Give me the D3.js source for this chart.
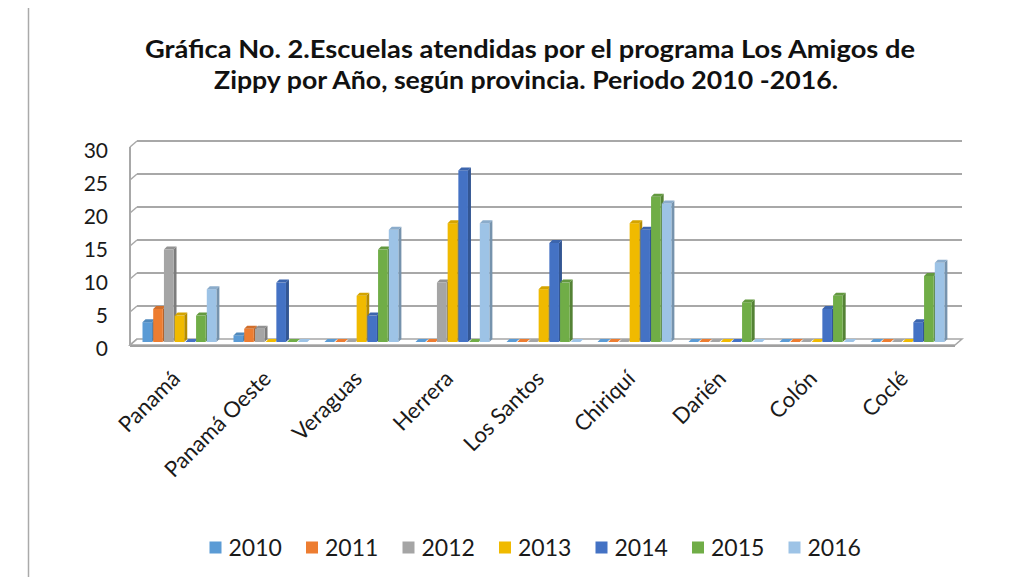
<!DOCTYPE html>
<html><head><meta charset="utf-8">
<script src="https://cdn.jsdelivr.net/npm/d3@7"></script>
<style>body{margin:0;background:#fff}svg{display:block}</style>
</head><body>
<svg id="c" width="1020" height="577"></svg>
<script>
const categories = ["Panamá","Panamá Oeste","Veraguas","Herrera","Los Santos","Chiriquí","Darién","Colón","Coclé"];
const years = ["2010","2011","2012","2013","2014","2015","2016"];
const colors = ["#5B9BD5","#ED7D31","#A5A5A5","#F0BA00","#4472C4","#70AD47","#9DC3E6"];
const v2010 = [3,1,0,0,0,0,0,0,0];
const v2011 = [5,2,0,0,0,0,0,0,0];
const v2012 = [14,2,0,9,0,0,0,0,0];
const v2013 = [4,0,7,18,8,18,0,0,0];
const v2014 = [0,9,4,26,15,17,0,5,3];
const v2015 = [4,0,14,0,9,22,6,7,10];
const v2016 = [8,0,17,18,0,21,0,0,12];
const series = [v2010,v2011,v2012,v2013,v2014,v2015,v2016];
const yTicks = [0,5,10,15,20,25,30];
const titleLines = ["Gráfica No. 2.Escuelas atendidas por el programa Los Amigos de","Zippy por Año, según provincia. Periodo 2010 -2016."];

const svg = d3.select("#c");
const FONT = "Lato, 'Open Sans', sans-serif";

// left page rule
svg.append("line").attr("x1",28.5).attr("x2",28.5).attr("y1",8).attr("y2",577)
  .attr("stroke","#aaa").attr("stroke-width",1.5);

// title
svg.append("g").selectAll("text").data(titleLines).join("text")
  .attr("x",(d,i)=> i===0?530:526).attr("y",(d,i)=>58+i*31)
  .attr("text-anchor","middle").attr("font-family",FONT).attr("font-weight","bold")
  .attr("font-size",24).attr("fill","#111")
  .attr("textLength",(d,i)=> i===0?770:624).attr("lengthAdjust","spacingAndGlyphs")
  .text(d=>d);

const y = d3.scaleLinear().domain([0,30]).range([342,144]);
const x0 = d3.scaleBand().domain(categories).range([130,949]);
const x1 = d3.scaleBand().domain(years).range([12.5,12.5+75]);
const DX = 7, DY = -6;     // wall depth
const bdx = 3, bdy = -3;   // bar depth
const wallL = 130, wallR = 955, floorY = 345;

// floor
const fl = svg.append("g");
fl.append("path").attr("d",`M${wallL},${floorY}L${wallR},${floorY}L${wallR+DX},${floorY+DY}L${wallL+DX},${floorY+DY}Z`)
  .attr("fill","#fff").attr("stroke","#a6a6a6").attr("stroke-width",1.5);
fl.append("line").attr("x1",wallL).attr("x2",wallR).attr("y1",floorY+1).attr("y2",floorY+1)
  .attr("stroke","#a0a0a0").attr("stroke-width",2.2);

// gridlines on back wall + left wall ticks
const grid = svg.append("g");
yTicks.forEach(t=>{
  const yf = y(t)+3;
  if(t>0){
    grid.append("line").attr("x1",wallL+DX).attr("x2",wallR+DX).attr("y1",yf+DY).attr("y2",yf+DY)
      .attr("stroke","#a8a8a8").attr("stroke-width",2.2);
  }
  grid.append("line").attr("x1",wallL).attr("x2",wallL+DX).attr("y1",yf).attr("y2",yf+DY)
    .attr("stroke","#a8a8a8").attr("stroke-width",1.5);
});
grid.append("line").attr("x1",wallL).attr("x2",wallL).attr("y1",y(30)+3).attr("y2",floorY+1)
  .attr("stroke","#a8a8a8").attr("stroke-width",2);

// y labels
svg.append("g").selectAll("text").data(yTicks).join("text")
  .attr("x",108).attr("y",t=>y(t)+7).attr("dy","0.35em").attr("text-anchor","end")
  .attr("font-family",FONT).attr("font-size",21).attr("fill","#1a1a1a").text(d=>d);

// bars
const W = 9.6;
const bars = svg.append("g");
categories.forEach((c,ci)=>{
  years.forEach((yr,si)=>{
    const v = series[si][ci];
    const col = d3.color(colors[si]);
    const xl = x0(c)+x1(yr), xr = xl+W, yt = y(v), yb = y(0);
    bars.append("path").attr("d",`M${xr},${yb}L${xr+bdx},${yb+bdy}L${xr+bdx},${yt+bdy}L${xr},${yt}Z`)
      .attr("fill",col.darker(0.8));
    bars.append("rect").attr("x",xl).attr("y",yt).attr("width",W).attr("height",Math.max(0,yb-yt))
      .attr("fill",colors[si]);
    bars.append("path").attr("d",`M${xl},${yt}L${xr},${yt}L${xr+bdx},${yt+bdy}L${xl+bdx},${yt+bdy}Z`)
      .attr("fill",v===0?colors[si]:col.darker(0.35));
  });
});

// x labels
svg.append("g").selectAll("text").data(categories).join("text")
  .attr("transform",d=>`translate(${x0(d)+x0.bandwidth()/2+6},${380}) rotate(-45)`)
  .attr("text-anchor","end").attr("font-family",FONT).attr("font-size",22).attr("fill","#1a1a1a")
  .text(d=>d);

// legend
const lg = svg.append("g").selectAll("g").data(years).join("g")
  .attr("transform",(d,i)=>`translate(${209.5+i*96.5},548)`);
lg.append("rect").attr("x",0).attr("y",-6.5).attr("width",12).attr("height",12).attr("fill",(d,i)=>colors[i]);
lg.append("text").attr("x",19).attr("y",0).attr("dy","0.36em").attr("font-family",FONT)
  .attr("font-size",23).attr("fill","#1a1a1a").text(d=>d);
</script>
</body></html>
